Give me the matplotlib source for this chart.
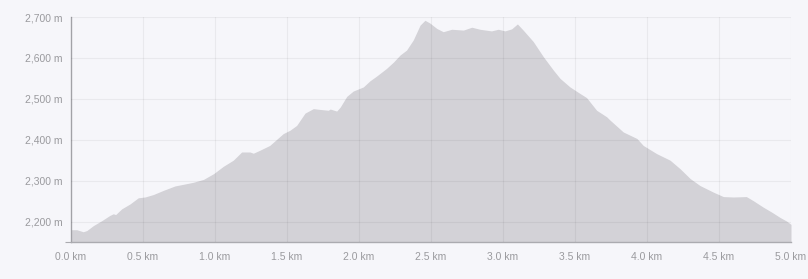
import matplotlib.pyplot as plt
from matplotlib.ticker import FixedLocator, FuncFormatter

# elevation profile
distance_km = [0.0, 0.04, 0.085, 0.11, 0.155, 0.213, 0.27, 0.294, 0.31, 0.352, 0.41,
               0.467, 0.514, 0.572, 0.64, 0.722, 0.78, 0.85, 0.92, 0.99, 1.058,
               1.127, 1.185, 1.243, 1.266, 1.31, 1.38, 1.474, 1.52, 1.567, 1.625,
               1.683, 1.73, 1.787, 1.80, 1.845, 1.87, 1.915, 1.96, 2.03, 2.076,
               2.12, 2.19, 2.24, 2.285, 2.33, 2.377, 2.424, 2.458, 2.493, 2.54,
               2.585, 2.644, 2.725, 2.783, 2.84, 2.92, 2.967, 3.014, 3.06, 3.10,
               3.14, 3.21, 3.28, 3.35, 3.396, 3.465, 3.535, 3.58, 3.65, 3.72,
               3.743, 3.835, 3.93, 3.974, 4.067, 4.16, 4.23, 4.30, 4.368, 4.46,
               4.53, 4.60, 4.69, 4.738, 4.808, 4.866, 4.924, 4.97, 5.0]
elevation_m = [2180, 2180, 2175, 2178, 2190, 2202, 2215, 2219, 2217, 2231, 2243,
               2258, 2260, 2266, 2276, 2287, 2291, 2296, 2303, 2317, 2335,
               2350, 2370, 2370, 2367, 2374, 2386, 2415, 2423, 2435, 2465,
               2476, 2474, 2472, 2475, 2470, 2480, 2506, 2519, 2529, 2544,
               2555, 2574, 2590, 2607, 2619, 2644, 2680, 2692, 2685, 2672,
               2664, 2670, 2668, 2675, 2670, 2666, 2670, 2666, 2671, 2683,
               2668, 2640, 2603, 2570, 2550, 2529, 2513, 2503, 2472, 2456,
               2448, 2419, 2403, 2386, 2366, 2350, 2329, 2305, 2288, 2272,
               2261, 2260, 2261, 2251, 2235, 2223, 2210, 2201, 2193]

x_ticks = [0.0, 0.5, 1.0, 1.5, 2.0, 2.5, 3.0, 3.5, 4.0, 4.5, 5.0]
y_ticks = [2200, 2300, 2400, 2500, 2600, 2700]

bg = "#f6f6fa"
fill_col = "#d3d2d7"
txt_col = "#9a9a9e"
axis_col = "#ababb0"

plt.rcParams["font.family"] = ["Liberation Sans", "DejaVu Sans"]

fig = plt.figure(figsize=(8.08, 2.79), dpi=100, facecolor=bg)
ax = fig.add_axes([71 / 808, 1 - 242 / 279, 720 / 808, 225 / 279])
ax.set_facecolor(bg)

ax.fill_between(distance_km, elevation_m, 2150, color=fill_col, lw=0, zorder=1)

ax.set_xlim(0, 5.0)
ax.set_ylim(2150, 2700)
ax.xaxis.set_major_locator(FixedLocator(x_ticks))
ax.yaxis.set_major_locator(FixedLocator(y_ticks))
ax.xaxis.set_major_formatter(FuncFormatter(lambda v, p: f"{v:.1f} km"))
ax.yaxis.set_major_formatter(FuncFormatter(lambda v, p: f"{v:,.0f} m"))

# small ticks only at the ends of each axis
ax.xaxis.set_minor_locator(FixedLocator([0.0, 5.0]))
ax.yaxis.set_minor_locator(FixedLocator([2150, 2700]))
ax.tick_params(which="major", length=0, labelsize=7.5, colors=txt_col)
ax.tick_params(axis="x", which="major", pad=7)
ax.tick_params(axis="y", which="major", pad=6)
ax.tick_params(which="minor", length=4, width=0.8, color=axis_col)

ax.grid(True, which="major", color="#000000", alpha=0.05, lw=0.8, zorder=2)
ax.set_axisbelow(False)

for s in ["top", "right"]:
    ax.spines[s].set_visible(False)
for s in ["left", "bottom"]:
    ax.spines[s].set_color(axis_col)
    ax.spines[s].set_linewidth(1.0)

fig.savefig("out.png", dpi=100, facecolor=bg)
